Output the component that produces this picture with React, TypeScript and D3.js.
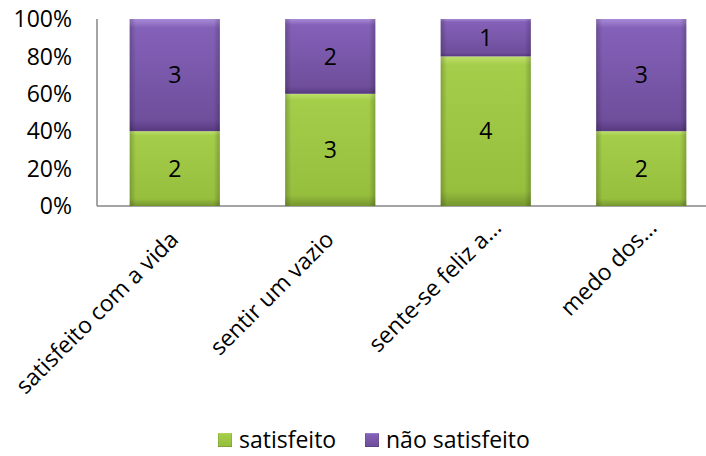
import * as d3 from "d3";

const categories = ["satisfeito com a vida", "sentir um vazio", "sente-se feliz a…", "medo dos…"];
const satisfeito = [2, 3, 4, 2];
const naoSatisfeito = [3, 2, 1, 3];
const seriesNames = ["satisfeito", "não satisfeito"];
const yTicks = [0, 0.2, 0.4, 0.6, 0.8, 1];

const W = 706;
const H = 456;
const FONT = "'Open Sans', sans-serif";
const FS = 23;

export default function App() {
  const margin = { top: 19, left: 97, bottom: 250 };
  const plotBottom = H - margin.bottom; // 206

  const x = d3.scaleBand<string>().domain(categories).range([margin.left, 719]).paddingInner(0.42).paddingOuter(0.21);
  const y = d3.scaleLinear().domain([0, 1]).range([plotBottom, margin.top]);
  const pct = d3.format(".0%");

  // stack the two series as shares of each category total
  const rows = categories.map((c, i) => ({ cat: c, s: satisfeito[i], n: naoSatisfeito[i] }));
  const stack = d3
    .stack<{ cat: string; s: number; n: number }>()
    .keys(["s", "n"])
    .offset(d3.stackOffsetExpand);
  const layers = stack(rows);
  const fills = ["url(#gGreen)", "url(#gPurple)"];
  const raw = [satisfeito, naoSatisfeito];

  return (
    <svg width={W} height={H} style={{ position: "absolute", left: 0, top: 0, background: "#fff" }}>
      <defs>
        <linearGradient id="gGreen" x1="0" y1="0" x2="0" y2="1">
          <stop offset="0" stopColor="#bde06a" />
          <stop offset="0.06" stopColor="#a4cd4a" />
          <stop offset="0.9" stopColor="#97bf3e" />
          <stop offset="1" stopColor="#76962f" />
        </linearGradient>
        <linearGradient id="gPurple" x1="0" y1="0" x2="0" y2="1">
          <stop offset="0" stopColor="#a88ad6" />
          <stop offset="0.08" stopColor="#8461b8" />
          <stop offset="0.9" stopColor="#6f4e9c" />
          <stop offset="1" stopColor="#573a80" />
        </linearGradient>
        <linearGradient id="sides" x1="0" y1="0" x2="1" y2="0">
          <stop offset="0" stopColor="#000" stopOpacity="0.2" />
          <stop offset="0.07" stopColor="#000" stopOpacity="0" />
          <stop offset="0.93" stopColor="#000" stopOpacity="0" />
          <stop offset="1" stopColor="#000" stopOpacity="0.2" />
        </linearGradient>
      </defs>

      {/* axes */}
      <line x1={margin.left} x2={margin.left} y1={y(1)} y2={y(0)} stroke="#868686" strokeWidth={1.5} />
      <line x1={margin.left} x2={W} y1={y(0)} y2={y(0)} stroke="#868686" strokeWidth={1.5} />

      {yTicks.map((t) => (
        <text key={t} x={72} y={y(t)} dy="0.36em" textAnchor="end" fontFamily={FONT} fontSize={FS} fill="#000">
          {pct(t)}
        </text>
      ))}

      {/* bars */}
      {layers.map((layer, li) =>
        layer.map((d, i) => {
          const bx = x(categories[i])!;
          const top = y(d[1]);
          const h = y(d[0]) - y(d[1]);
          return (
            <g key={`${li}-${i}`}>
              <rect x={bx} y={top} width={x.bandwidth()} height={h} fill={fills[li]} />
              <rect x={bx} y={top} width={x.bandwidth()} height={h} fill="url(#sides)" />
              <text
                x={bx + x.bandwidth() / 2}
                y={top + h / 2}
                dy="0.36em"
                textAnchor="middle"
                fontFamily={FONT}
                fontSize={FS}
                fill="#000"
              >
                {raw[li][i]}
              </text>
            </g>
          );
        })
      )}

      {/* rotated category labels; truncated ones sit a bit further along */}
      {categories.map((c) => {
        const cx = x(c)! + x.bandwidth() / 2;
        const shift = c.endsWith("…") ? 17 : 0;
        return (
          <text
            key={c}
            transform={`translate(${cx + 5},${plotBottom + 35}) rotate(-45)`}
            dx={shift}
            textAnchor="end"
            fontFamily={FONT}
            fontSize={FS}
            fill="#000"
          >
            {c}
          </text>
        );
      })}

      {/* legend */}
      {seriesNames.map((s, i) => {
        const lx = i === 0 ? 218 : 365;
        return (
          <g key={s}>
            <rect x={lx} y={433} width={14} height={14} fill={fills[i]} />
            <rect x={lx} y={433} width={14} height={14} fill="url(#sides)" />
            <text x={lx + 21} y={440} dy="0.36em" fontFamily={FONT} fontSize={FS} fill="#000">
              {s}
            </text>
          </g>
        );
      })}
    </svg>
  );
}
